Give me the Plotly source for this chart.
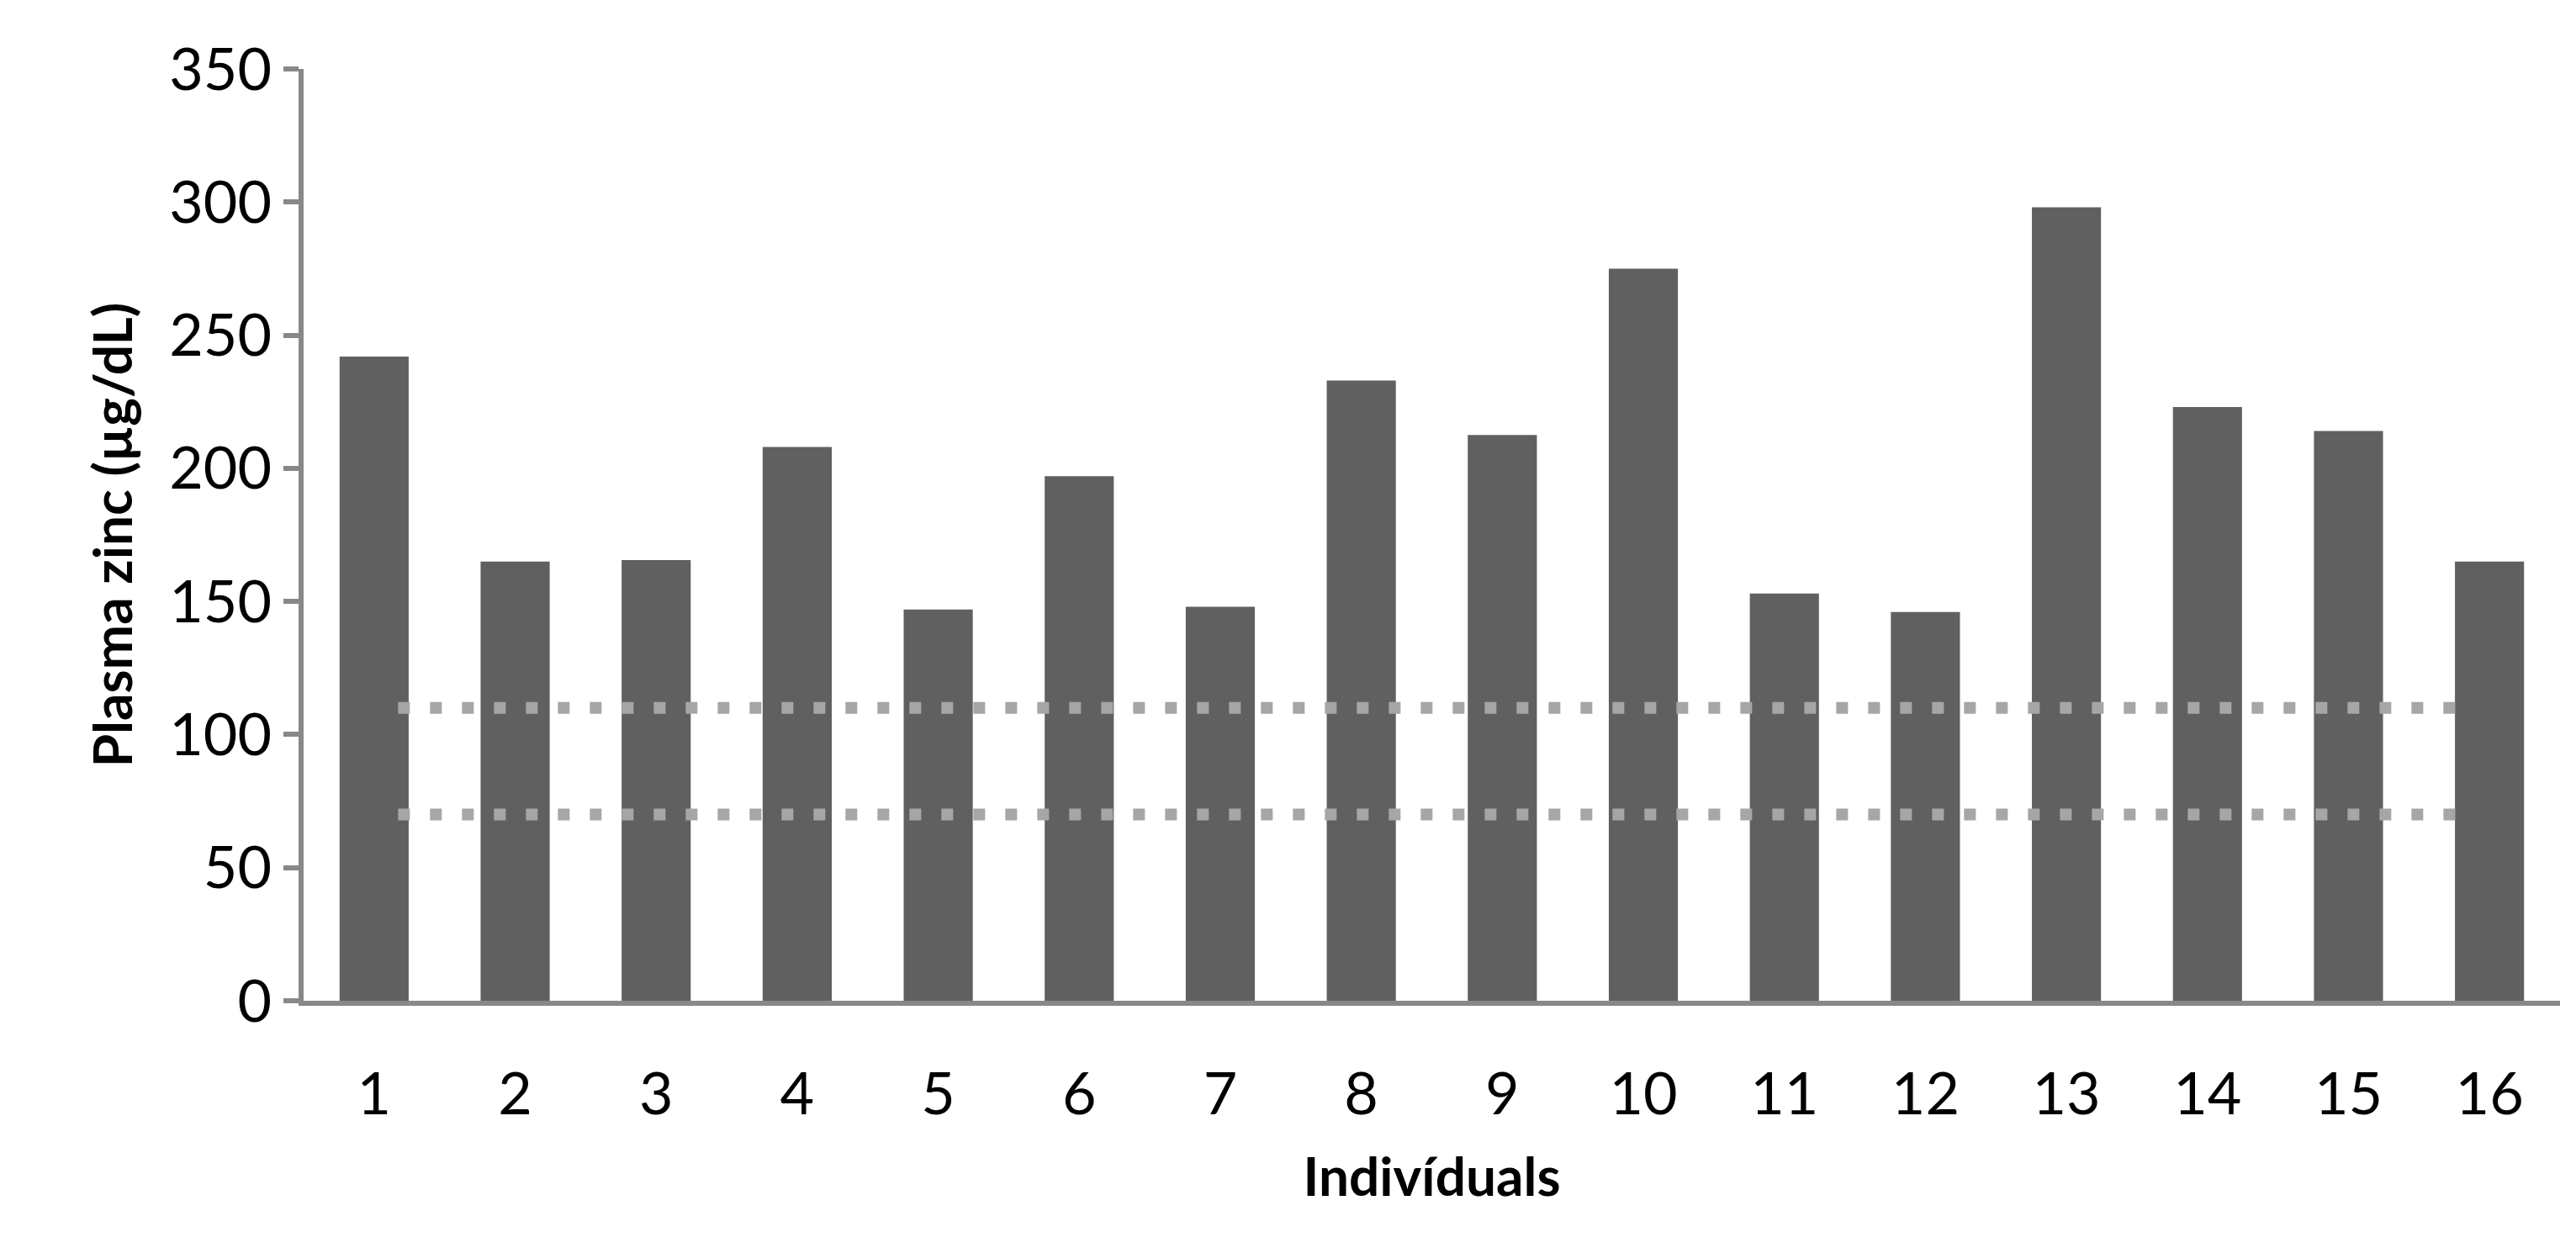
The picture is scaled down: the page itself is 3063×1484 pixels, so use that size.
import plotly.graph_objects as go

individuals = list(range(1, 17))
zinc = [242, 165, 165.5, 208, 147, 197, 148, 233, 212.5, 275, 153, 146, 298, 223, 214, 165]
upper_ref = 110
lower_ref = 70
ref_x = [1.17, 15.8]

fig = go.Figure()
fig.add_trace(go.Bar(x=individuals, y=zinc, width=0.49, marker_color="#606060", marker_line_width=0))
for v in (upper_ref, lower_ref):
    fig.add_trace(go.Scatter(x=ref_x, y=[v, v], mode="lines",
                             line=dict(color="#a6a6a6", width=14, dash="14px,24px")))

fig.update_layout(
    width=3063, height=1484, showlegend=False,
    plot_bgcolor="white", paper_bgcolor="white",
    margin=dict(l=353, r=27, t=74, b=302),
    font=dict(family="Lato", size=70, color="black"),
)
fig.update_xaxes(range=[0.5, 16.5], tickvals=individuals, showline=True, linecolor="#888888",
                 linewidth=6, ticks="", showgrid=False, zeroline=False,
                 ticklabelstandoff=45,
                 title=dict(text="<b>Indivíduals</b>", font=dict(size=64), standoff=40))
fig.update_yaxes(range=[0, 350], dtick=50, showline=True, linecolor="#888888", linewidth=6,
                 ticks="outside", ticklen=18, tickwidth=6, tickcolor="#888888",
                 showgrid=False, zeroline=False,
                 title=dict(text="<b>Plasma zinc (µg/dL)</b>", font=dict(size=64), standoff=25))
fig.write_html("out.html")
